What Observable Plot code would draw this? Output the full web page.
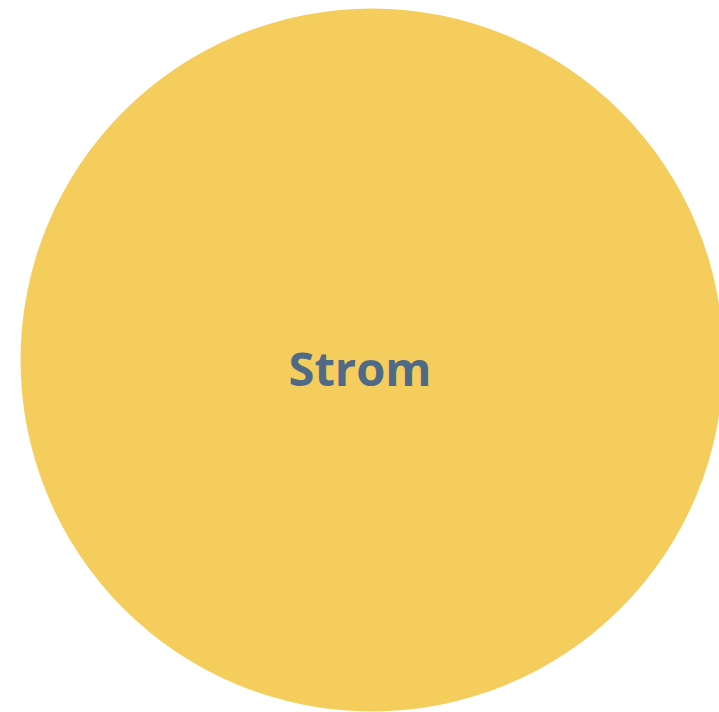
<!DOCTYPE html>
<html>
<head>
<meta charset="utf-8">
<script src="https://cdn.jsdelivr.net/npm/d3@7"></script>
<script src="https://cdn.jsdelivr.net/npm/@observablehq/plot@0.6"></script>
<style>
  html, body { margin: 0; padding: 0; background: #ffffff; }
</style>
</head>
<body>
<div id="chart"></div>
<script>
const categories = ["Strom"];
const values = [100];

const data = categories.map((c, i) => ({ name: c, value: values[i], px: 0, py: 0 }));

const chart = Plot.plot({
  width: 719,
  height: 712,
  margin: 0,
  x: { domain: [-1, 1], range: [20, 723], axis: null },
  y: { domain: [-1, 1], range: [8, 711], axis: null },
  r: { domain: [0, 100], range: [0, 351.5] },
  marks: [
    Plot.dot(data, { x: "px", y: "py", r: "value", fill: "#F5CD5C", stroke: "none" }),
    Plot.text(data, {
      x: "px", y: "py", text: "name",
      dx: -12, dy: 11,
      fill: "#4F6A86",
      fontSize: 47,
      fontWeight: "bold",
      fontFamily: "Open Sans, sans-serif"
    })
  ]
});
document.getElementById("chart").appendChild(chart);
</script>
</body>
</html>
